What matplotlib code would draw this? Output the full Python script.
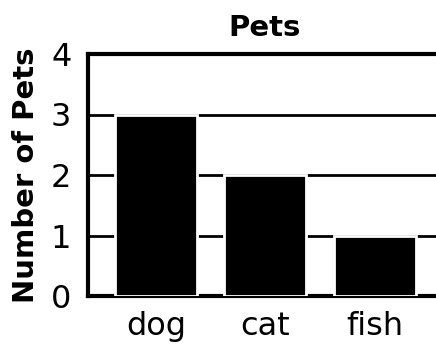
import matplotlib.pyplot as plt

pets = ['dog', 'cat', 'fish']
counts = [3, 2, 1]
y_ticks = [0, 1, 2, 3, 4]

plt.rcParams['font.family'] = ['DejaVu Sans']

fig = plt.figure(figsize=(4.36, 3.46), dpi=100)
ax = fig.add_axes([88/436, 1-296/346, 1-88/436+0.01, (296-54)/346])

x = list(range(len(pets)))
ax.bar(x, counts, width=0.75, color='black', edgecolor='white', linewidth=2, zorder=3)

ax.set_xlim(-0.62, 2.6)
ax.set_ylim(0, 4)
ax.set_yticks(y_ticks)
ax.set_xticks(x)
ax.set_xticklabels(pets)
ax.tick_params(length=0, labelsize=23, pad=11)
ax.tick_params(axis='y', pad=12)
ax.yaxis.grid(True, color='black', linewidth=2, zorder=0)
ax.set_axisbelow(True)
for s in ['left', 'bottom', 'top']:
    ax.spines[s].set_linewidth(3)
ax.spines['right'].set_visible(False)

ax.set_title('Pets', fontsize=21, fontweight='heavy', pad=13)
ax.set_ylabel('Number of Pets', fontsize=21, fontweight='heavy', labelpad=8)

fig.savefig('out.png', dpi=100)
